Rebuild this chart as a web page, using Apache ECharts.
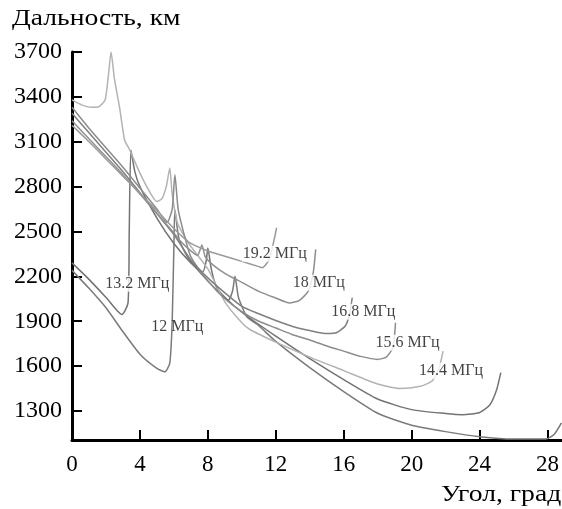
<!DOCTYPE html>
<html>
<head>
<meta charset="utf-8">
<script src="https://cdn.jsdelivr.net/npm/echarts@6/dist/echarts.min.js"></script>
<style>html,body{margin:0;padding:0;background:#fff}#c{width:562px;height:509px}</style>
</head>
<body>
<div id="c"></div>
<script>
// Angle (deg) / distance (km) pairs per frequency curve
var f12 = [[0,2240],[1,2120],[2,1990],[3,1830],[4,1680],[5,1585],[5.47,1562],[5.76,1622],[5.9,1900],[6.0,2400],[6.06,2645],[6.3,2450],[6.8,2330],[7.5,2230],[8.5,2110],[9.2,2040],[9.45,2100],[9.6,2200],[9.8,2060],[10.3,1930],[11,1870],[12,1765],[14,1590],[16,1430],[18,1285],[20,1205],[22,1162],[24,1128],[26,1112],[27.9,1112],[28.4,1145],[28.82,1220]];
var f132 = [[0,2290],[1,2180],[2,2060],[2.94,1945],[3.3,2023],[3.37,2500],[3.47,3045],[3.7,2900],[4,2800],[5,2590],[6,2420],[7,2290],[7.7,2230],[7.9,2300],[8.0,2390],[8.2,2250],[8.5,2130],[9,2060],[10,1960],[12,1800],[14,1650],[16,1510],[18,1380],[20,1309],[22,1283],[23,1275],[24,1290],[24.6,1340],[25.0,1440],[25.25,1556]];
var f144 = [[0,3380],[0.6,3345],[1.2,3330],[1.6,3335],[1.95,3380],[2.15,3550],[2.3,3700],[2.5,3520],[2.8,3330],[3.1,3110],[3.4,3045],[4.0,2890],[4.6,2760],[5.0,2700],[5.3,2720],[5.55,2800],[5.76,2925],[5.9,2750],[6.2,2560],[6.6,2470],[7,2400],[8,2250],[9,2030],[10,1890],[10.5,1843],[12,1760],[14,1660],[16,1570],[18,1480],[19.3,1450],[20.5,1465],[21.2,1500],[21.6,1580],[21.85,1700]];
var f156 = [[0,3330],[1,3190],[2,3060],[3,2930],[4,2790],[5,2650],[5.6,2560],[5.9,2650],[6.06,2880],[6.25,2650],[6.65,2460],[7,2330],[8,2170],[9,2050],[10,1965],[11,1900],[12,1855],[13,1810],[14,1775],[15,1735],[16,1700],[17,1665],[18,1645],[18.5,1660],[18.9,1725],[19.05,1890]];
var f168 = [[0,3290],[1,3160],[2,3030],[3,2900],[4,2760],[5,2620],[6,2480],[7,2310],[8,2190],[9,2090],[10,2000],[11,1950],[12,1905],[13,1865],[14,1838],[15,1818],[15.6,1825],[16.1,1870],[16.35,1950],[16.5,2057]];
var f18 = [[0,3240],[1,3120],[2,3000],[3,2880],[4,2750],[5,2620],[6,2490],[6.35,2440],[7,2370],[7.4,2340],[7.65,2410],[7.85,2330],[8.3,2277],[9,2220],[10,2160],[11,2100],[12,2055],[12.8,2022],[13.4,2040],[13.9,2100],[14.2,2220],[14.35,2380]];
var f192 = [[0,3210],[1,3100],[2,2985],[3,2870],[4,2755],[5,2640],[6,2520],[6.5,2465],[7,2420],[8,2370],[9,2335],[10,2300],[11,2265],[11.2,2257],[11.6,2310],[11.9,2444],[12.05,2525]];

var labelNames = ['12 МГц','13.2 МГц','14.4 МГц','15.6 МГц','16.8 МГц','18 МГц','19.2 МГц'];
var labelX = [6.2, 3.85, 22.32, 19.76, 17.15, 14.53, 11.94];
var labelY = [1863, 2150, 1569, 1756, 1963, 2157, 2351];

var xTicks = [0,4,8,12,16,20,24,28];
var yTicks = [1300,1600,1900,2200,2500,2800,3100,3400,3700];

var curves = [f12, f132, f144, f156, f168, f18, f192];
var colors = ['#7a7a7a','#737373','#b3b3b3','#8c8c8c','#7f7f7f','#8f8f8f','#9a9a9a'];

var FONT = 'Liberation Serif';
var chart = echarts.init(document.getElementById('c'), null, {renderer:'canvas'});

var series = curves.map(function(d, i){
  return {type:'line', data:d, showSymbol:false, symbol:'none', smooth:0.2,
    lineStyle:{color:colors[i], width:1.5}, z:2, silent:true};
});
series.push({
  type:'scatter', symbolSize:0, z:5, silent:true,
  data: labelNames.map(function(n,i){
    var item = {value:[labelX[i], labelY[i]], name:n};
    if (i === 0) item.label = {backgroundColor:'transparent'};
    return item;
  }),
  label:{show:true, position:'inside', formatter:'{b}', fontFamily:FONT, fontSize:16, color:'#111',
    backgroundColor:'#fff', padding:[0,1]}
});

chart.setOption({
  animation:false,
  backgroundColor:'#fff',
  grid:{left:72, right:0, top:52, bottom:69},
  xAxis:{type:'value', min:0, max:28.82,
    axisLine:{lineStyle:{color:'#000', width:3}},
    axisTick:{inside:true, length:10, lineStyle:{color:'#000', width:2}, customValues:xTicks},
    axisLabel:{fontFamily:FONT, fontSize:23, color:'#000', margin:13, customValues:xTicks,
      formatter:function(v){return String(v);}},
    splitLine:{show:false}},
  yAxis:{type:'value', min:1106, max:3700,
    axisLine:{show:true, lineStyle:{color:'#000', width:3}},
    axisTick:{show:true, inside:true, length:10, lineStyle:{color:'#000', width:2}, customValues:yTicks},
    axisLabel:{fontFamily:FONT, fontSize:24, color:'#000', margin:10, customValues:yTicks,
      formatter:function(v){return String(v);}},
    splitLine:{show:false}},
  graphic:[
    {type:'text', left:12, top:7, scaleX:1.2, style:{text:'Дальность, км', font:'23px "Liberation Serif"', fill:'#000'}},
    {type:'text', left:441, top:483, scaleX:1.2, style:{text:'Угол, град', font:'23px "Liberation Serif"', fill:'#000'}}
  ],
  series:series
});
</script>
</body>
</html>
